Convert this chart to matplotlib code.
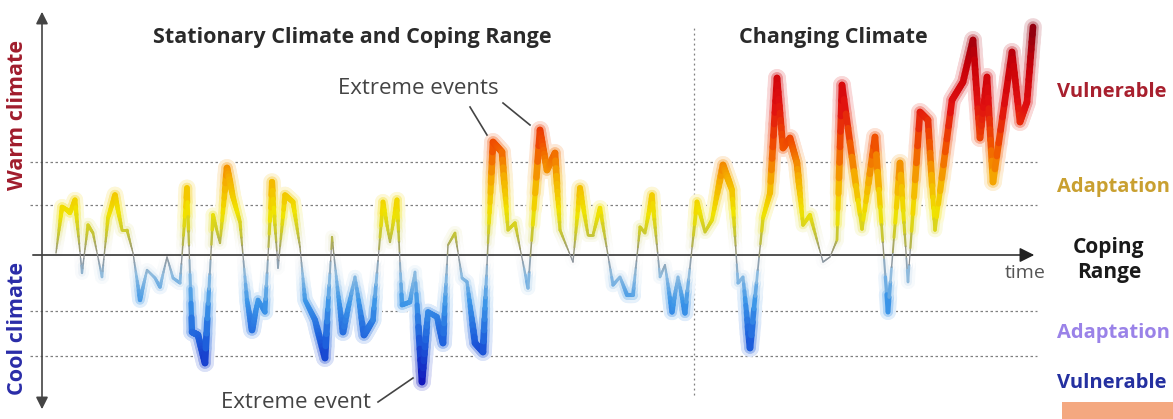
import numpy as np
import matplotlib
matplotlib.use("Agg")
import matplotlib.pyplot as plt
from matplotlib.collections import LineCollection
from matplotlib.patches import Rectangle

# climate signal: time step and anomaly (arbitrary units)
time = [14, 20, 25, 28, 33, 40, 46, 51, 60, 66,
        73, 80, 85, 91, 98, 105, 113, 118, 125, 131,
        138, 145, 150, 156, 163, 171, 178, 185, 191, 198,
        205, 210, 216, 223, 230, 236, 243, 251, 258, 263,
        273, 283, 290, 296, 301, 313, 322, 331, 341, 348,
        355, 360, 368, 373, 380, 386, 395, 401, 406, 413,
        420, 425, 433, 441, 446, 451, 460, 466, 473, 486,
        498, 505, 513, 518, 531, 538, 546, 551, 558, 571,
        578, 585, 591, 598, 603, 610, 618, 623, 630, 636,
        643, 655, 663, 670, 681, 690, 696, 701, 708, 721,
        728, 735, 741, 748, 755, 761, 768, 781, 788, 795,
        800, 820, 833, 846, 858, 866, 878, 886, 893, 910,
        921, 931, 938, 945, 951, 970, 978, 985, 991]
anomaly = [2, 48, 45, 42, 55, -18, 30, 22, -22, 37,
           60, 25, 25, 2, -45, -15, -23, -32, -2, -23,
           -28, 67, -77, -80, -108, 40, 12, 87, 58, 33,
           -45, -75, -45, -57, 73, -13, 60, 53, 8, -45,
           -65, -103, 18, -38, -77, -22, -80, -65, 53, 13,
           55, -50, -47, -17, -127, -57, -62, -88, 10, 22,
           -23, -27, -88, -97, 12, 113, 103, 25, 32, -33,
           125, 85, 102, 25, -7, 67, 20, 20, 47, -30,
           -22, -40, -40, 28, 22, 60, -22, -10, -57, -22,
           -58, 53, 23, 35, 90, 65, -28, -22, -93, 37,
           62, 177, 107, 117, 92, 30, 40, -7, -2, 15,
           170, 26, 118, -57, 92, -27, 143, 135, 25, 155,
           173, 215, 117, 178, 73, 203, 133, 153, 228]

band_levels = [93, 50, -56, -101]
x_left, x_right = -12, 995

STOPS_POS = [(0, "#8c8c8c"), (20, "#c4c438"), (42, "#f0e400"), (75, "#f5b000"),
             (110, "#f05000"), (150, "#e01010"), (190, "#c80008"), (230, "#8a0010")]
STOPS_NEG = [(0, "#8c8c8c"), (-20, "#90bde0"), (-48, "#3c96e8"), (-85, "#1e60dc"),
             (-128, "#1010b8")]


def blend(v):
    stops = STOPS_POS if v >= 0 else STOPS_NEG
    vals = [abs(s[0]) for s in stops]
    cols = np.array([matplotlib.colors.to_rgb(s[1]) for s in stops])
    a = min(abs(v), vals[-1])
    return np.array([np.interp(a, vals, cols[:, k]) for k in range(3)])


def width(v):
    a = abs(v)
    return 0.8 + 4.0 * min(a, 75) / 75.0


def glow(v, strength):
    # pale opaque version of the colour, fading to white near zero
    c = blend(v)
    s = strength * min(abs(v), 40) / 40.0
    return tuple(1 - s * (1 - c))


fig = plt.figure(figsize=(11.73, 4.19), dpi=100)
ax = fig.add_axes([0, 0, 1, 1])
ax.set_xlim(-42, 1131)
ax.set_ylim(-164, 255)
ax.axis("off")

# reference bands
for lv in band_levels:
    ax.plot([x_left, x_right], [lv, lv], color="#808080", lw=0.9, ls=(0, (2, 2)), zorder=1)
ax.plot([652, 652], [-140, 230], color="#808080", lw=0.9, ls=(0, (1.5, 2.5)), zorder=1)

# curve, split into short pieces so colour and width follow the value
segs, core_c, core_w, mid_c, mid_w, out_c, out_w = [], [], [], [], [], [], []
n = 10
for i in range(len(time) - 1):
    t0, t1 = time[i], time[i + 1]
    a0, a1 = anomaly[i], anomaly[i + 1]
    for k in range(n):
        f0, f1 = k / n, (k + 1) / n
        p0 = (t0 + (t1 - t0) * f0, a0 + (a1 - a0) * f0)
        p1 = (t0 + (t1 - t0) * f1, a0 + (a1 - a0) * f1)
        vm = 0.5 * (p0[1] + p1[1])
        segs.append([p0, p1])
        core_c.append(tuple(blend(vm)))
        core_w.append(width(vm))
        mid_c.append(glow(vm, 0.42))
        mid_w.append(width(vm) + 3.5)
        out_c.append(glow(vm, 0.16))
        out_w.append(width(vm) + 8)

ax.add_collection(LineCollection(segs, colors=out_c, linewidths=out_w,
                                 capstyle="round", joinstyle="round", zorder=1.5))
ax.add_collection(LineCollection(segs, colors=mid_c, linewidths=mid_w,
                                 capstyle="round", joinstyle="round", zorder=2))
ax.add_collection(LineCollection(segs, colors=core_c, linewidths=core_w,
                                 capstyle="round", joinstyle="round", zorder=4))

# axes arrows
ax.annotate("", xy=(995, 0), xytext=(-12, 0),
            arrowprops=dict(arrowstyle="-|>", color="#222222", lw=1.1, mutation_scale=22), zorder=3)
ax.annotate("", xy=(0, 246), xytext=(0, -157),
            arrowprops=dict(arrowstyle="<|-|>", color="#444444", lw=1.2, mutation_scale=18), zorder=3)

font = "Open Sans"
ax.text(310, 217, "Stationary Climate and Coping Range", fontsize=15.5, fontweight="bold",
        family=font, color="#2a2a2a", ha="center", va="center")
ax.text(791, 217, "Changing Climate", fontsize=15.5, fontweight="bold",
        family=font, color="#2a2a2a", ha="center", va="center")
ax.text(376, 166, "Extreme events", fontsize=16, family=font, color="#444444",
        ha="center", va="center")
ax.text(254, -147, "Extreme event", fontsize=16, family=font, color="#444444",
        ha="center", va="center")
ax.plot([428, 445], [148, 120], color="#444444", lw=1.2)
ax.plot([461, 488], [152, 130], color="#444444", lw=1.2)
ax.plot([336, 371], [-147, -123], color="#444444", lw=1.2)

ax.text(-24, 140, "Warm climate", fontsize=15.5, fontweight="bold", family=font,
        color="#a01c2c", rotation=90, ha="center", va="center")
ax.text(-24, -73, "Cool climate", fontsize=15.5, fontweight="bold", family=font,
        color="#2a2ca8", rotation=90, ha="center", va="center")

ax.text(1015, 163, "Vulnerable", fontsize=14.5, fontweight="bold", family=font,
        color="#a8202e", ha="left", va="center")
ax.text(1015, 68, "Adaptation", fontsize=14.5, fontweight="bold", family=font,
        color="#c9a030", ha="left", va="center")
ax.text(1067, -5, "Coping\nRange", fontsize=15, fontweight="bold", family=font,
        color="#1a1a1a", ha="center", va="center", linespacing=1.2)
ax.text(1015, -78, "Adaptation", fontsize=14.5, fontweight="bold", family=font,
        color="#9a82e8", ha="left", va="center")
ax.text(1015, -128, "Vulnerable", fontsize=14.5, fontweight="bold", family=font,
        color="#2430a0", ha="left", va="center")
ax.text(983, -18, "time", fontsize=14, family=font, color="#555555",
        ha="center", va="center")

ax.add_patch(Rectangle((1020, -164), 120, 17, color="#f4a880", lw=0, zorder=5))

fig.savefig("out.png", dpi=100)
